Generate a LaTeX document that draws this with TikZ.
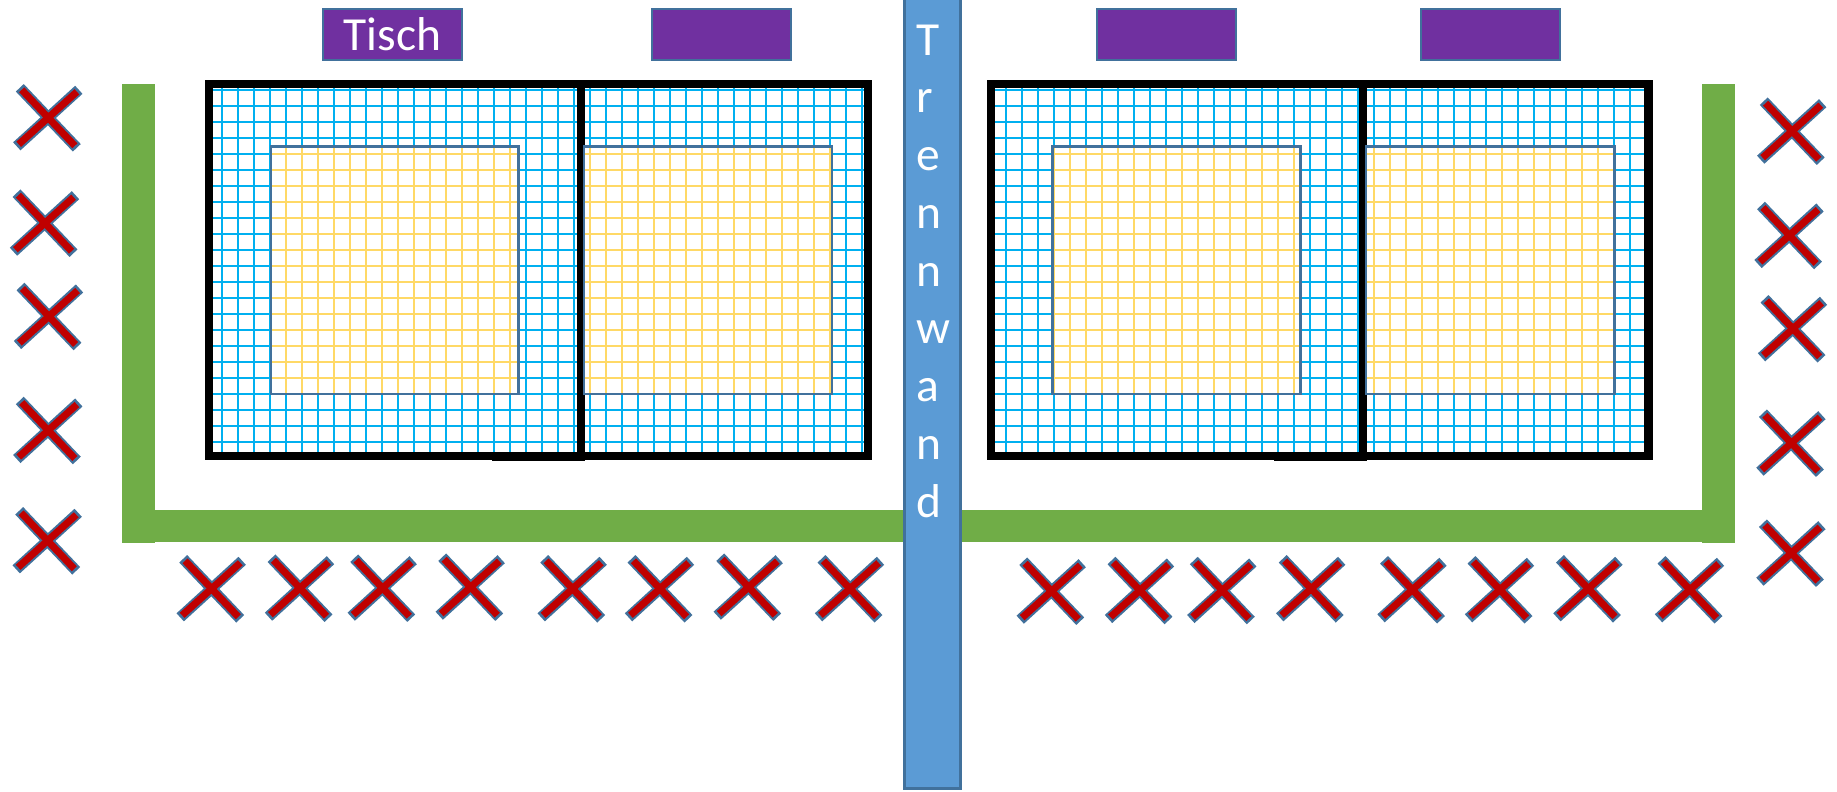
\documentclass[tikz,border=0pt]{standalone}
\usepackage{fontspec}
\setmainfont{Carlito}
\definecolor{Wand}{HTML}{5B9BD5}
\definecolor{Rand}{HTML}{41719C}
\definecolor{Gruen}{HTML}{70AD47}
\definecolor{Lila}{HTML}{7030A0}
\definecolor{Rot}{HTML}{C00000}
\definecolor{Blau}{HTML}{00B0F0}
\definecolor{Gelb}{HTML}{FFD966}
\tikzset{
tischbox/.style={draw=Rand,fill=Lila,line width=.7pt,minimum width=1.385cm,minimum height=.515cm,inner sep=0pt,text=white,font=\fontsize{13.5}{16}\selectfont},
wandtext/.style={text=white,inner sep=0pt,align=left,font=\fontsize{13.5}{16.42}\selectfont},
rasterblau/.style={Blau,line width=.55pt},
rastergelb/.style={Gelb,line width=.55pt},
kreuzrand/.style={Rand,line width=3.1pt},
kreuzrot/.style={Rot,line width=2pt}
}
\begin{document}
\begin{tikzpicture}[x=.01cm,y=-.01cm]
\useasboundingbox(0,0)rectangle(1837,791);
\fill[white](0,0)rectangle(1837,791);
\fill[Gruen](122,84)rectangle(155,542.7);
\fill[Gruen](155,510)rectangle(1702,542);
\fill[Gruen](1702,84)rectangle(1735,542.7);
\draw[Rand,fill=Wand,line width=.7pt](904.5,-5)rectangle(960.5,788.5);
\node[wandtext,anchor=north west](wand)at(915.5,24){T\\r\\e\\n\\n\\w\\a\\n\\d};
\node[tischbox](tisch1)at(392.5,34.5){Tisch};
\node[tischbox](tisch2)at(721.5,34.5){};
\node[tischbox](tisch3)at(1166.5,34.5){};
\node[tischbox](tisch4)at(1490.5,34.5){};
\foreach \ox/\gx/\br in {0/222/868,781.7/1005.7/1648.4}{
\foreach \k in {0,...,40}\draw[rasterblau](\gx+16*\k,88)--(\gx+16*\k,452);
\foreach \k in {0,...,22}\draw[rasterblau](\ox+212,90+16*\k)--(\br-4,90+16*\k);
\draw[black,line width=2.35pt](\ox+209,84)rectangle(\br,456);
\draw[black,line width=2.35pt](\ox+581,84)--(\ox+581,460.7);
\draw[black,line width=2.35pt](\ox+492,456.7)--(\ox+585,456.7);
}
\foreach \xa/\xb/\gx in {271/518.7/222,584.2/832/222,1052.6/1300.5/1005.7,1365.8/1614.5/1005.7}{
\fill[white](\xa,146.3)rectangle(\xb,394);
\begin{scope}
\clip(\xa,146.3)rectangle(\xb,394);
\foreach \k in {0,...,40}\draw[rastergelb](\gx+16*\k,88)--(\gx+16*\k,452);
\foreach \k in {0,...,22}\draw[rastergelb](200,90+16*\k)--(1660,90+16*\k);
\end{scope}
\draw[Rand,line width=.7pt](\xa,146.3)rectangle(\xb,394);
}
\foreach \x/\y in {48.3/117.3,45/222.7,49/316,48.3/430,47.7/540.3,
211.7/588.3,300/587.7,382.7/587.7,470.7/586.7,572.7/588.3,660/588.3,748.7/586.7,850/588.3,
1051.7/590.7,1140/590,1222.3/590,1311.2/588.3,1412.5/589.3,1500/589.3,1588.4/588.3,1690/589.3,
1792.2/130.7,1789.5/235,1793/328.3,1791.4/442.7,1791.4/552.7}{
\begin{scope}[shift={(\x,\y)}]
\draw[kreuzrand](-28.5,-29.5)--(28.5,30.5);
\draw[kreuzrand](-31.5,29)--(30.5,-27.5);
\draw[kreuzrot](-26.6,-27.5)--(26.6,28.5);
\draw[kreuzrot](-29.6,27)--(28.6,-25.5);
\end{scope}}
\end{tikzpicture}
\end{document}
